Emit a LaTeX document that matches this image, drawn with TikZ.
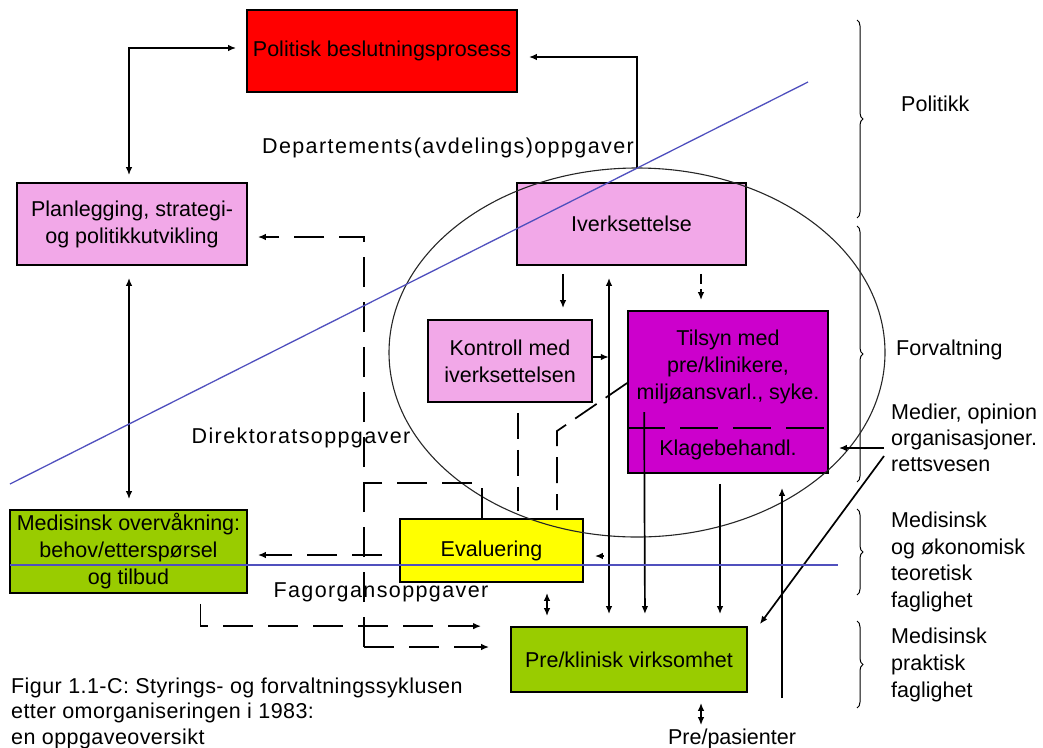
\documentclass[tikz,border=0pt]{standalone}
\usepackage{fontspec}
\setmainfont{Liberation Sans}
\usetikzlibrary{arrows.meta,calc,shapes.geometric,decorations.pathreplacing}
\definecolor{pinkbox}{RGB}{242,168,232}
\definecolor{magbox}{RGB}{204,0,204}
\definecolor{greenbox}{RGB}{153,204,0}
\definecolor{yellowbox}{RGB}{255,255,0}
\definecolor{redbox}{RGB}{255,0,0}
\definecolor{blueln}{RGB}{80,80,190}
\begin{document}
\begin{tikzpicture}[x=1pt,y=-1pt,
  font=\fontsize{21.5}{27}\selectfont,
  box/.style={draw=black,line width=1.7pt,inner sep=0pt,align=center},
  lbl/.style={inner sep=0pt,align=center},
  wide/.style={font=\fontsize{21.5}{27}\selectfont\addfontfeature{LetterSpace=6.5}},
  tip/.tip={Latex[length=8pt,width=6.5pt]},
  arr/.style={line width=1.7pt,-tip},
  darr/.style={line width=1.7pt,tip-tip},
  dl/.style={line width=1.7pt,dash pattern=on 30pt off 15pt},
  dls/.style={line width=1.7pt,dash pattern=on 26pt off 11pt},
  blueline/.style={blueln,line width=1.3pt},
  brc/.style={decorate,decoration={brace,amplitude=6pt},line width=1pt}]
\useasboundingbox (0,0) rectangle (1043,747);

% boxes
\node[box,fill=redbox,minimum width=270,minimum height=82] (pol) at (382,51) {Politisk beslutningsprosess};
\node[box,fill=pinkbox,minimum width=230,minimum height=82] (plan) at (132,224) {Planlegging, strategi-\\og politikkutvikling};
\node[box,fill=pinkbox,minimum width=229,minimum height=82] (ivk) at (631.5,224) {Iverksettelse};
\node[box,fill=pinkbox,minimum width=164,minimum height=82] (kon) at (510,361) {Kontroll med\\iverksettelsen};
\node[box,fill=magbox,minimum width=200,minimum height=162] (til) at (728,392) {};
\node[lbl] (tiltxt) at (728,367) {Tilsyn med\\pre/klinikere,\\miljøansvarl., syke.};
\node[lbl] (klage) at (728,450) {Klagebehandl.};
\draw[line width=1.7pt,dash pattern=on 38pt off 15pt] (til.west |- 0,428) -- (til.east |- 0,428);
\node[box,fill=greenbox,minimum width=237,minimum height=83] (med) at (128.5,551.5) {Medisinsk overvåkning:\\behov/etterspørsel\\og tilbud};
\node[box,fill=yellowbox,minimum width=183,minimum height=63] (eva) at (491.5,550.5) {Evaluering};
\node[box,fill=greenbox,minimum width=236,minimum height=65] (pre) at (629,659.5) {Pre/klinisk virksomhet};

% free texts
\node[lbl,wide] (dep) at (448,148) {Departements(avdelings)oppgaver};
\node[lbl,wide] (dir) at (301,438) {Direktoratsoppgaver};
\node[lbl,wide] (fag) at (381,592) {Fagorgansoppgaver};
\node[lbl,anchor=base] (pas) at (732,744) {Pre/pasienter};
\node[lbl,anchor=west,align=left] (polt) at (901,104) {Politikk};
\node[lbl,anchor=west,align=left] (forv) at (896,350) {Forvaltning};
\node[lbl,anchor=west,align=left,font=\fontsize{21.5}{26}\selectfont] (medier) at (891,438) {Medier, opinion\\organisasjoner.\\rettsvesen};
\node[lbl,anchor=west,align=left,font=\fontsize{21.5}{26.5}\selectfont] (teor) at (891,562) {Medisinsk\\og økonomisk\\teoretisk\\faglighet};
\node[lbl,anchor=west,align=left,font=\fontsize{21.5}{27}\selectfont] (prak) at (891,665) {Medisinsk\\praktisk\\faglighet};
\node[lbl,anchor=west,align=left,font=\fontsize{21.5}{25.5}\selectfont\addfontfeature{LetterSpace=2}] (cap) at (11,713) {Figur 1.1-C: Styrings- og forvaltningssyklusen\\etter omorganiseringen i 1983:\\en oppgaveoversikt};

% braces
\draw[brc] (857,20) -- (857,218);
\draw[brc] (857,226) -- (857,482);
\draw[brc] (857,509) -- (857,595);
\draw[brc] (857,621) -- (857,708);

% ellipse
\node[draw=black!85,ellipse,line width=1.1pt,inner sep=0pt,outer sep=0pt,minimum width=496,minimum height=369] (ell) at (637,352.5) {};

% solid connectors
\draw[darr] ($(plan.north)+(-3,-7)$) |- ($(pol.west)+(-10,-3)$);
\draw[arr] (ell.north) |- ($(pol.east)+(11,6)$);
\draw[darr] ($(plan.south)+(-3,12)$) -- ($(med.north)+(0.5,-10)$);
\draw[arr,shorten <=8pt,shorten >=11pt] (563,0 |- ivk.south) -- (563,0 |- kon.north);
\draw[darr,shorten <=12pt,shorten >=12pt] (609,0 |- ivk.south) -- (609,0 |- pre.north);
\draw[arr,dash pattern=on 10pt off 5pt,shorten <=8pt,shorten >=10pt] (701,0 |- ivk.south) -- (701,0 |- til.north);
\draw[arr] ($(kon.east)+(0,-4)$) -- ++(16,0);
\draw[arr,shorten >=12pt] ($(til.west)+(17,20)$) -- (645,0 |- pre.north);
\draw[arr,shorten <=10pt,shorten >=12pt] (720,0 |- til.south) -- (720,0 |- pre.north);
\coordinate (upend) at (782,698);
\draw[arr,shorten >=14pt] (upend) -- (upend |- til.south);
\coordinate (medsrc) at (884,448);
\draw[arr,shorten >=10pt] (medsrc) -- (til.east |- medsrc);
\coordinate (medsrc2) at (884,456);
\draw[arr] (medsrc2) -- ($(pre.north east)+(12,-2)$);
\draw[darr,shorten <=10pt,shorten >=10pt] (547,0 |- eva.south) -- (547,0 |- pre.north);
\draw[darr,shorten <=10pt,shorten >=3pt] (701,0 |- pre.south) -- (701,0 |- pas.north);
\draw[arr] ($(eva.east)+(20,5.5)$) -- ($(eva.east)+(11,5.5)$);

% dashed connectors
\coordinate (ctop) at (364,237);
\coordinate (cmid) at (364,483);
\coordinate (cbot) at (364,647);
\coordinate (cdiag) at (557,431);
\draw[dl,arr] (cbot) -- (ctop) -- ($(plan.east |- ctop)+(10,0)$);
\draw[dl,arr] (cbot) -- ($(pre.west |- cbot)+(-21,0)$);
\draw[dl,arr] ($(eva.west)+(-17,4.5)$) -- ($(med.east)+(10,3.5)$);
\draw[dl] ($(eva.north)+(-9.5,0)$) |- (cmid);
\draw[dls,shorten <=10pt,shorten >=7pt] (518,0 |- kon.south) -- (518,0 |- eva.north);
\draw[dls,shorten >=8pt] ($(til.west)+(0,-9)$) -- (cdiag) -- (557,0 |- eva.north);
\draw[dl,arr] ($(med.south)+(72,10)$) |- ($(pre.north west)+(-29,0)$);

% blue lines
\draw[blueline] (10,484) -- (808,82);
\draw[blueline] (10,565) -- (838,565);
\end{tikzpicture}
\end{document}
